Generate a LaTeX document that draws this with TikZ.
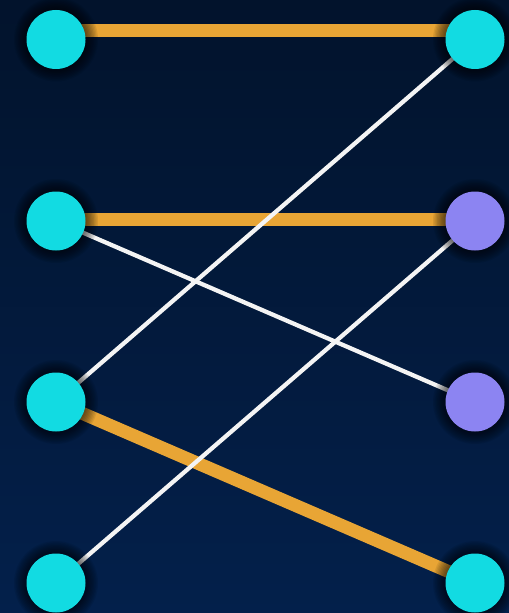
\documentclass[tikz,border=0pt]{standalone}
\pgfdeclarelayer{bgl}
\pgfdeclarelayer{edges}
\pgfdeclarelayer{shad}
\pgfsetlayers{bgl,edges,shad,main}
\definecolor{cy}{HTML}{12DBE2}
\definecolor{pu}{HTML}{8C84F2}
\definecolor{orng}{HTML}{E8A535}
\definecolor{wht}{HTML}{F4F4F4}
\definecolor{bgtop}{HTML}{02132C}
\definecolor{bgbot}{HTML}{03204B}
\begin{document}
\begin{tikzpicture}[x=0.75pt,y=-0.75pt,
  dot/.style={circle,minimum size=44.25pt,inner sep=0pt,draw=none},
  thick edge/.style={draw=orng,line width=9.75pt},
  thin edge/.style={draw=wht,line width=3.2pt}]
\begin{pgfonlayer}{bgl}
\shade[top color=bgtop,bottom color=bgbot] (0,0) rectangle (509,613);
\end{pgfonlayer}
\useasboundingbox (0,0) rectangle (509,613);
\node[dot,fill=cy] (l1) at (56,39.5) {};
\node[dot,fill=cy] (l2) at (56,221) {};
\node[dot,fill=cy] (l3) at (56,402) {};
\node[dot,fill=cy] (l4) at (56,583) {};
\node[dot,fill=cy] (r1) at (475,39.5) {};
\node[dot,fill=pu] (r2) at (475,221) {};
\node[dot,fill=pu] (r3) at (475,402) {};
\node[dot,fill=cy] (r4) at (475,583) {};
\begin{pgfonlayer}{edges}
\draw[thick edge] ([yshift=7.1pt]l1.center) -- ([yshift=7.1pt]r1.center);
\draw[thick edge] ([yshift=0.8pt]l2.center) -- ([yshift=0.8pt]r2.center);
\draw[thick edge] (l3.center) -- (r4.center);
\draw[thin edge] (r1.center) -- (l3.center);
\draw[thin edge] (l2.center) -- (r3.center);
\draw[thin edge] (r2.center) -- (l4.center);
\end{pgfonlayer}
\begin{pgfonlayer}{shad}
\foreach \n in {l1,l2,l3,l4,r1,r2,r3,r4}{
  \foreach \r in {22.5,23.5,...,31.5}{
    \fill[black,opacity=0.08] (\n.center) circle[radius=\r pt];
  }
}
\end{pgfonlayer}
\end{tikzpicture}
\end{document}
